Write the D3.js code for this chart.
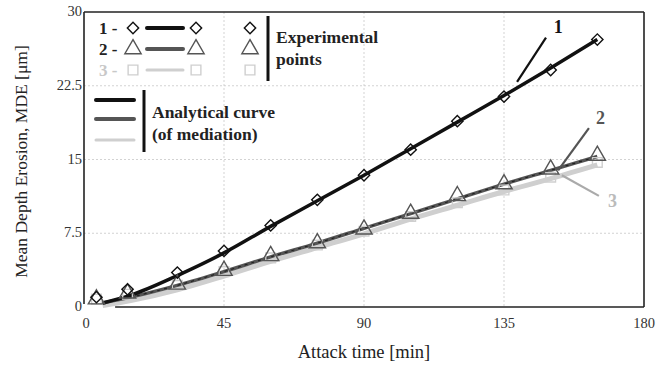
<!DOCTYPE html>
<html>
<head>
<meta charset="utf-8">
<script src="https://cdn.jsdelivr.net/npm/d3@7"></script>
<style>
body { margin: 0; background: #fff; }
.grid line { stroke: #c8c8c8; stroke-width: 0.8; stroke-dasharray: 2,2; }
</style>
</head>
<body>
<script>
// measured times [min]
var times = [4, 14, 30, 45, 60, 75, 90, 105, 120, 135, 150, 165];
// experimental points, MDE [um]
var exp1 = [1.0, 1.8, 3.5, 5.7, 8.3, 10.9, 13.4, 16.0, 18.9, 21.4, 24.1, 27.2];
var exp2 = [0.9, 1.5, 2.4, 3.8, 5.3, 6.6, 8.0, 9.6, 11.4, 12.6, 14.1, 15.5];
var exp3 = [0.8, 1.3, 2.2, 3.6, 5.0, 6.3, 7.7, 9.2, 10.6, 11.9, 13.2, 14.7];
// analytical curves
var curveTimes = [6, 15, 30, 45, 60, 75, 90, 105, 120, 135, 150, 165];
var curve1 = [0.4, 1.2, 3.2, 5.5, 8.2, 10.8, 13.4, 16.1, 18.8, 21.5, 24.3, 27.2];
var curve2 = [0.4, 1.0, 2.2, 3.6, 5.1, 6.5, 8.0, 9.5, 11.0, 12.5, 13.9, 15.3];
var curve3 = [0.3, 0.8, 1.9, 3.3, 4.8, 6.2, 7.6, 9.1, 10.5, 11.9, 13.2, 14.6];
var xTicks = [0, 45, 90, 135, 180];
var yTicks = [0, 7.5, 15, 22.5, 30];
// curve labels: [t0, v0, t1, v1, labelT, labelV]
var leaders = [
    [139.2, 22.9, 148.5, 27.4, 151, 27.9, "1"],
    [152.4, 13.9, 162.3, 18.2, 164.6, 18.6, "2"],
    [153.6, 13.4, 165.5, 11.3, 168.4, 10.2, "3"]
];

var width = 658, height = 365;
var margin = {left: 84, right: 14, top: 12, bottom: 58};
var serif = "Liberation Serif";

var svg = d3.select("body").append("svg")
    .attr("width", width)
    .attr("height", height)
    .attr("font-family", serif);

var x = d3.scaleLinear().domain([0, 180]).range([margin.left, width - margin.right]);
var y = d3.scaleLinear().domain([0, 30]).range([height - margin.bottom, margin.top]);

var colors = ["#111", "#555", "#cfcfcf"];

//gridlines
var grid = svg.append("g").attr("class", "grid");
grid.selectAll(".vg").data([45, 90, 135]).enter().append("line")
    .attr("x1", function(d){ return x(d); })
    .attr("x2", function(d){ return x(d); })
    .attr("y1", y(30)).attr("y2", y(0));
grid.selectAll(".hg").data([7.5, 15, 22.5]).enter().append("line")
    .attr("x1", x(0)).attr("x2", x(180))
    .attr("y1", function(d){ return y(d); })
    .attr("y2", function(d){ return y(d); });

//frame: bottom edge starts a bit right of the origin as in the source
var frame = svg.append("g").attr("stroke", "#222").attr("stroke-width", 1.6);
frame.append("line").attr("x1", x(0)).attr("x2", x(0)).attr("y1", y(30)).attr("y2", y(0.3));
frame.append("line").attr("x1", x(0)).attr("x2", x(180)).attr("y1", y(30)).attr("y2", y(30));
frame.append("line").attr("x1", x(180)).attr("x2", x(180)).attr("y1", y(30)).attr("y2", y(0));
frame.append("line").attr("x1", x(10)).attr("x2", x(180)).attr("y1", y(0)).attr("y2", y(0));

//tick labels
svg.append("g").selectAll("text").data(xTicks).enter().append("text")
    .attr("x", function(d){ return x(d) + (d == 0 ? 2 : 0); })
    .attr("y", y(0) + 21)
    .attr("text-anchor", "middle")
    .attr("font-size", 14.5)
    .attr("fill", "#333")
    .text(function(d){ return d; });
svg.append("g").selectAll("text").data(yTicks).enter().append("text")
    .attr("x", x(0) - 2)
    .attr("y", function(d){ return y(d) + 4; })
    .attr("text-anchor", "end")
    .attr("font-size", 14.5)
    .attr("fill", "#333")
    .text(function(d){ return d; });

//axis titles
svg.append("text")
    .attr("transform", "translate(27," + ((y(0) + y(30)) / 2 + 2) + ") rotate(-90)")
    .attr("text-anchor", "middle")
    .attr("font-size", 17.5)
    .attr("fill", "#222")
    .text("Mean Depth Erosion, MDE [\u03bcm]");
svg.append("text")
    .attr("x", (x(0) + x(180)) / 2)
    .attr("y", 358)
    .attr("text-anchor", "middle")
    .attr("font-size", 18.5)
    .attr("fill", "#222")
    .text("Attack time [min]");

//analytical curves
var line = d3.line()
    .x(function(d, i){ return x(curveTimes[i]); })
    .y(function(d){ return y(d); })
    .curve(d3.curveMonotoneX);

svg.append("path").datum(curve3).attr("d", line)
    .attr("fill", "none").attr("stroke", colors[2]).attr("stroke-width", 5)
    .attr("transform", "translate(0,1.5)");
svg.append("path").datum(curve2).attr("d", line)
    .attr("fill", "none").attr("stroke", colors[1]).attr("stroke-width", 3.5);
svg.append("path").datum(curve2).attr("d", line)
    .attr("fill", "none").attr("stroke", "#222").attr("stroke-width", 1.2)
    .attr("stroke-dasharray", "3,4");
svg.append("path").datum(curve1).attr("d", line)
    .attr("fill", "none").attr("stroke", colors[0]).attr("stroke-width", 3.5);

//markers: rotated square, triangle, square
var shapes = [d3.symbolSquare, d3.symbolTriangle, d3.symbolSquare];
var sizes = [64, 115, 95];
function marker(g, k, cx, cy){
    return g.append("path")
        .attr("d", d3.symbol().type(shapes[k]).size(sizes[k])())
        .attr("transform", "translate(" + cx + "," + cy + ")" + (k == 0 ? " rotate(45)" : ""))
        .attr("fill", "none")
        .attr("stroke", colors[k])
        .attr("stroke-width", 1.4);
}
var pts = svg.append("g");
[2, 1, 0].forEach(function(k){
    var vals = [exp1, exp2, exp3][k];
    times.forEach(function(t, i){
        marker(pts, k, x(t), y(vals[i]) + (k == 1 ? 1 : 0));
    });
});

//curve labels
leaders.forEach(function(d, i){
    var c = i == 2 ? "#bbb" : (i == 1 ? "#555" : "#111");
    svg.append("line")
        .attr("x1", x(d[0])).attr("y1", y(d[1]))
        .attr("x2", x(d[2])).attr("y2", y(d[3]))
        .attr("stroke", i == 2 ? "#aaa" : colors[i])
        .attr("stroke-width", 2.2);
    svg.append("text")
        .attr("x", x(d[4])).attr("y", y(d[5]))
        .attr("font-size", 18)
        .attr("font-weight", "bold")
        .attr("fill", c)
        .text(d[6]);
});

//legend
var lg = svg.append("g");
var rowsY = [28, 49, 70];
function btext(tx, ty, s, c, fs){
    return lg.append("text").attr("x", tx).attr("y", ty)
        .attr("font-family", serif).attr("font-weight", "bold")
        .attr("font-size", fs || 17.5).attr("fill", c).text(s);
}
["1 -", "2 -", "3 -"].forEach(function(lbl, k){
    var ry = rowsY[k];
    btext(99, ry + 6, lbl, k == 2 ? "#c8c8c8" : "#222", 17);
    marker(lg, k, 133, ry);
    lg.append("line").attr("x1", 147).attr("x2", 183).attr("y1", ry).attr("y2", ry)
        .attr("stroke", colors[k]).attr("stroke-width", k == 2 ? 3 : 4)
        .attr("stroke-linecap", "round");
    marker(lg, k, 196, ry);
    marker(lg, k, 250, ry);
});
lg.append("line").attr("x1", 268).attr("x2", 268).attr("y1", 16).attr("y2", 81)
    .attr("stroke", "#111").attr("stroke-width", 3);
btext(276, 43, "Experimental", "#222");
btext(276, 65, "points", "#222");

[100, 119, 140].forEach(function(ly, k){
    lg.append("line").attr("x1", 96).attr("x2", 134).attr("y1", ly).attr("y2", ly)
        .attr("stroke", colors[k]).attr("stroke-width", k == 2 ? 3 : 4)
        .attr("stroke-linecap", "round");
});
lg.append("line").attr("x1", 144).attr("x2", 144).attr("y1", 90).attr("y2", 152)
    .attr("stroke", "#111").attr("stroke-width", 3);
btext(152, 118, "Analytical curve", "#222");
btext(152, 140, "(of mediation)", "#222");
</script>
</body>
</html>
